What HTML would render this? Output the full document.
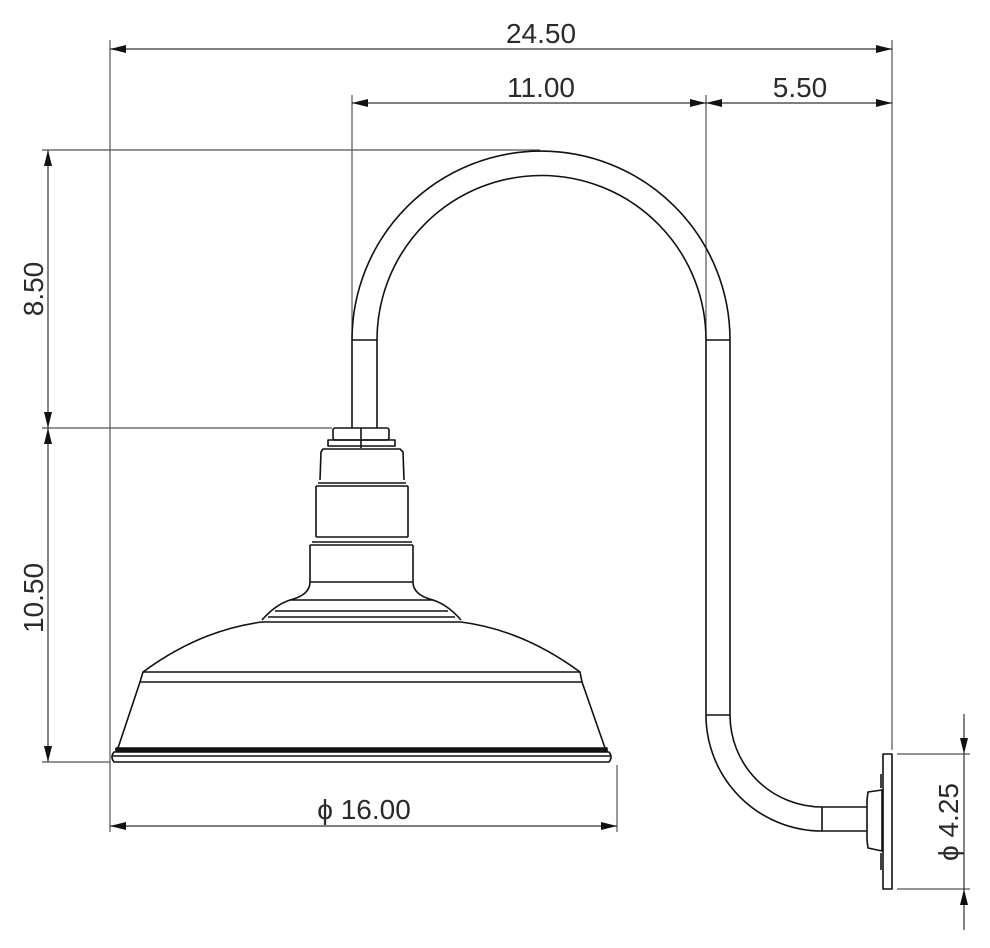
<!DOCTYPE html>
<html><head><meta charset="utf-8"><style>
html,body{margin:0;padding:0;background:#fff;}
svg{display:block;}
text{font-family:"Liberation Sans",sans-serif;font-size:28px;fill:#2a2a2a;}
</style></head><body>
<svg width="990" height="948" viewBox="0 0 990 948" xmlns="http://www.w3.org/2000/svg">
<defs>
<marker id="a" markerWidth="16" markerHeight="8" refX="16" refY="4" orient="auto" markerUnits="userSpaceOnUse"><path d="M0,0 L16,4 L0,8 Z" fill="#111"/></marker>
<marker id="b" markerWidth="16" markerHeight="8" refX="0" refY="4" orient="auto" markerUnits="userSpaceOnUse"><path d="M16,0 L0,4 L16,8 Z" fill="#111"/></marker>
</defs>
<g stroke="#555" stroke-width="1.2" fill="none">
<line x1="110" y1="40" x2="110" y2="832"/>
<line x1="892" y1="40" x2="892" y2="750"/>
<line x1="352" y1="95" x2="352" y2="340"/>
<line x1="706" y1="95" x2="706" y2="340"/>
<line x1="42" y1="150" x2="540" y2="150"/>
<line x1="42" y1="428" x2="332" y2="428"/>
<line x1="42" y1="762" x2="110" y2="762"/>
<line x1="617" y1="765" x2="617" y2="832"/>
<line x1="897" y1="754" x2="970" y2="754"/>
<line x1="897" y1="889" x2="970" y2="889"/>
</g>
<g stroke="#333" stroke-width="1.2" fill="none">
<line x1="110" y1="49" x2="892" y2="49" marker-start="url(#b)" marker-end="url(#a)"/>
<line x1="352" y1="103" x2="706" y2="103" marker-start="url(#b)" marker-end="url(#a)"/>
<line x1="706" y1="103" x2="892" y2="103" marker-start="url(#b)" marker-end="url(#a)"/>
<line x1="48" y1="150" x2="48" y2="428" marker-start="url(#b)" marker-end="url(#a)"/>
<line x1="48" y1="428" x2="48" y2="762" marker-start="url(#b)" marker-end="url(#a)"/>
<line x1="110" y1="826" x2="617" y2="826" marker-start="url(#b)" marker-end="url(#a)"/>
<line x1="964" y1="714" x2="964" y2="754" marker-end="url(#a)"/>
<line x1="964" y1="930" x2="964" y2="889" marker-end="url(#a)"/>
<line x1="964" y1="754" x2="964" y2="889"/>
</g>
<text x="541" y="43" text-anchor="middle">24.50</text>
<text x="541" y="97" text-anchor="middle">11.00</text>
<text x="800" y="97" text-anchor="middle">5.50</text>
<text x="364" y="819" text-anchor="middle">ϕ 16.00</text>
<text transform="translate(43,289) rotate(-90)" text-anchor="middle">8.50</text>
<text transform="translate(43,598) rotate(-90)" text-anchor="middle">10.50</text>
<text transform="translate(958,822) rotate(-90)" text-anchor="middle">ϕ 4.25</text>

<g stroke="#111" stroke-width="1.6" fill="none" stroke-linejoin="round">
<path d="M352,428 L352,340 A189,189 0 0 1 730,340 L730,715 A92,92 0 0 0 822,807 L867,807"/>
<path d="M377,428 L377,340 A164,164 0 0 1 706,340 L706,715 A116,116 0 0 0 822,831 L867,831"/>
<line x1="352" y1="340" x2="377" y2="340"/>
<line x1="706" y1="340" x2="730" y2="340"/>
<line x1="706" y1="715" x2="730" y2="715"/>
<line x1="822" y1="807" x2="822" y2="831"/>
<path d="M867,800 L868,792 L882,790 L882,851 L868,848 L867,840 Z"/>
<rect x="883" y="754" width="9" height="135"/>
<line x1="881" y1="774" x2="881" y2="788"/>
<line x1="881" y1="853" x2="881" y2="870"/>
<rect x="333" y="428" width="56" height="12" rx="2"/>
<line x1="361" y1="428" x2="361" y2="448"/>
<rect x="328" y="440" width="67" height="6"/>
<path d="M320,480 L321,452 L323,449 L400,449 L403,452 L404,480"/>
<path d="M318,483 L406,483 M316,486 L408,486 M316,486 L316,537 M408,486 L408,537 M316,537 L408,537"/>
<path d="M312,542 L412,542 M310,545 L413,545 M310,545 L310,582 M413,545 L413,582 M310,582 L413,582"/>
<path d="M310,582 Q310,595 290,600 Q275,605 262,620 M413,582 Q413,595 433,600 Q448,605 461,620"/>
<path d="M290,600 L433,600 M275,611 L448,611 M268,617 L455,617 M262,622 L461,622"/>
<path d="M262,622 Q200,630 143,672 L140,682 L118,748 M461,622 Q523,630 580,672 L582,682 L605,748"/>
<path d="M143,672 L580,672 M140,682 L582,682"/>
<rect x="116" y="748" width="491" height="3" fill="#111"/>
<path d="M114,752 L609,752 Q613,757 609,762 L114,762 Q110,757 114,752 Z"/>
<line x1="113" y1="756" x2="610" y2="756"/>
</g>
</svg>
</body></html>
